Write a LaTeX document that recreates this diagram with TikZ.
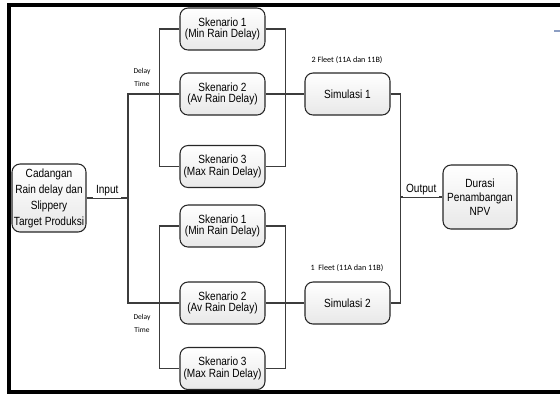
\documentclass[tikz,border=0pt]{standalone}
\usepackage{fontspec}
\setmainfont{Liberation Sans}[FakeStretch=0.85]
\newfontfamily\notefont{Carlito}
\definecolor{wiregray}{RGB}{60,60,60}
\definecolor{stubblue}{RGB}{140,158,195}
\begin{document}
\begin{tikzpicture}[x=0.75pt,y=-0.75pt,
    box/.style={draw=black!85, line width=0.8pt, rounded corners=6pt,
      top color=white, bottom color=black!9, align=center, inner sep=1pt,
      minimum width=63.75pt, minimum height=31.5pt,
      font=\fontsize{8.9}{8.6}\selectfont},
    wire/.style={draw=wiregray, line width=0.9pt},
    lbl/.style={fill=white, inner sep=2pt, anchor=base, yshift=3.5pt,
      font=\fontsize{8.9}{10}\selectfont},
    note/.style={align=center, font=\notefont\fontsize{5.6}{9.2}\selectfont}]

    \useasboundingbox (0,0) rectangle (560,394);
    % frame
    \draw[line width=3pt] (560,5) -- (9,5) -- (9,392) -- (560,392);
    \draw[stubblue, line width=1.2pt] (554,31) -- (560,31);

    % input and output
    \node[box, minimum width=55.5pt, minimum height=51pt,
      font=\fontsize{8.9}{12}\selectfont] (cad) at (49,198)
      {Cadangan\\Rain delay dan\\Slippery\\Target Produksi};
    \node[box, minimum width=55.5pt, minimum height=48pt,
      font=\fontsize{8.9}{10.7}\selectfont] (dur) at (480,197)
      {Durasi\\Penambangan\\NPV};
    \coordinate (jin) at (128,198);
    \coordinate (jout) at (400,197);

    % skenario upper
    \node[box] (sk1a) at (222.5,29) {Skenario 1\\(Min Rain Delay)};
    \node[box] (sk2a) at (222.5,94) {Skenario 2\\(Av Rain Delay)};
    \node[box] (sk3a) at (222.5,166.5) {Skenario 3\\(Max Rain Delay)};
    % skenario lower
    \node[box] (sk1b) at (222.5,226) {Skenario 1\\(Min Rain Delay)};
    \node[box] (sk2b) at (222.5,303) {Skenario 2\\(Av Rain Delay)};
    \node[box] (sk3b) at (222.5,368.5) {Skenario 3\\(Max Rain Delay)};

    \node[box] (sim1) at (347.5,94) {Simulasi 1};
    \node[box] (sim2) at (347.5,303) {Simulasi 2};

    \node[note] (dt1) at (142,77.5) {Delay\\Time};
    \node[note] (dt2) at (142,323.5) {Delay\\Time};
    \node[note, font=\notefont\fontsize{6.1}{8}\selectfont] (fl1) at (347,60)
      {2 Fleet (11A dan 11B)};
    \node[note, font=\notefont\fontsize{6.1}{8}\selectfont] (fl2) at (347,268)
      {1\ \ Fleet (11A dan 11B)};

    % connectors
    \draw[wire] (cad.east) -- node[lbl] {Input} (jin);
    \draw[wire] (jin) |- (sk2a.west);
    \draw[wire] (jin) |- (sk2b.west);
    \draw[wire] (sk1a.west) -- ++(-20,0) |- (sk3a.west);
    \draw[wire] (sk1b.west) -- ++(-20,0) |- (sk3b.west);
    \draw[wire] (sk1a.east) -- ++(20,0) |- (sk3a.east);
    \draw[wire] (sk1b.east) -- ++(20,0) |- (sk3b.east);
    \draw[wire] (sk2a.east) -- (sim1.west);
    \draw[wire] (sk2b.east) -- (sim2.west);
    \draw[wire] (sim1.east) -- ++(10,0) |- (sim2.east);
    \draw[wire] (jout) -- node[lbl] {Output} (dur.west);

\end{tikzpicture}
\end{document}
